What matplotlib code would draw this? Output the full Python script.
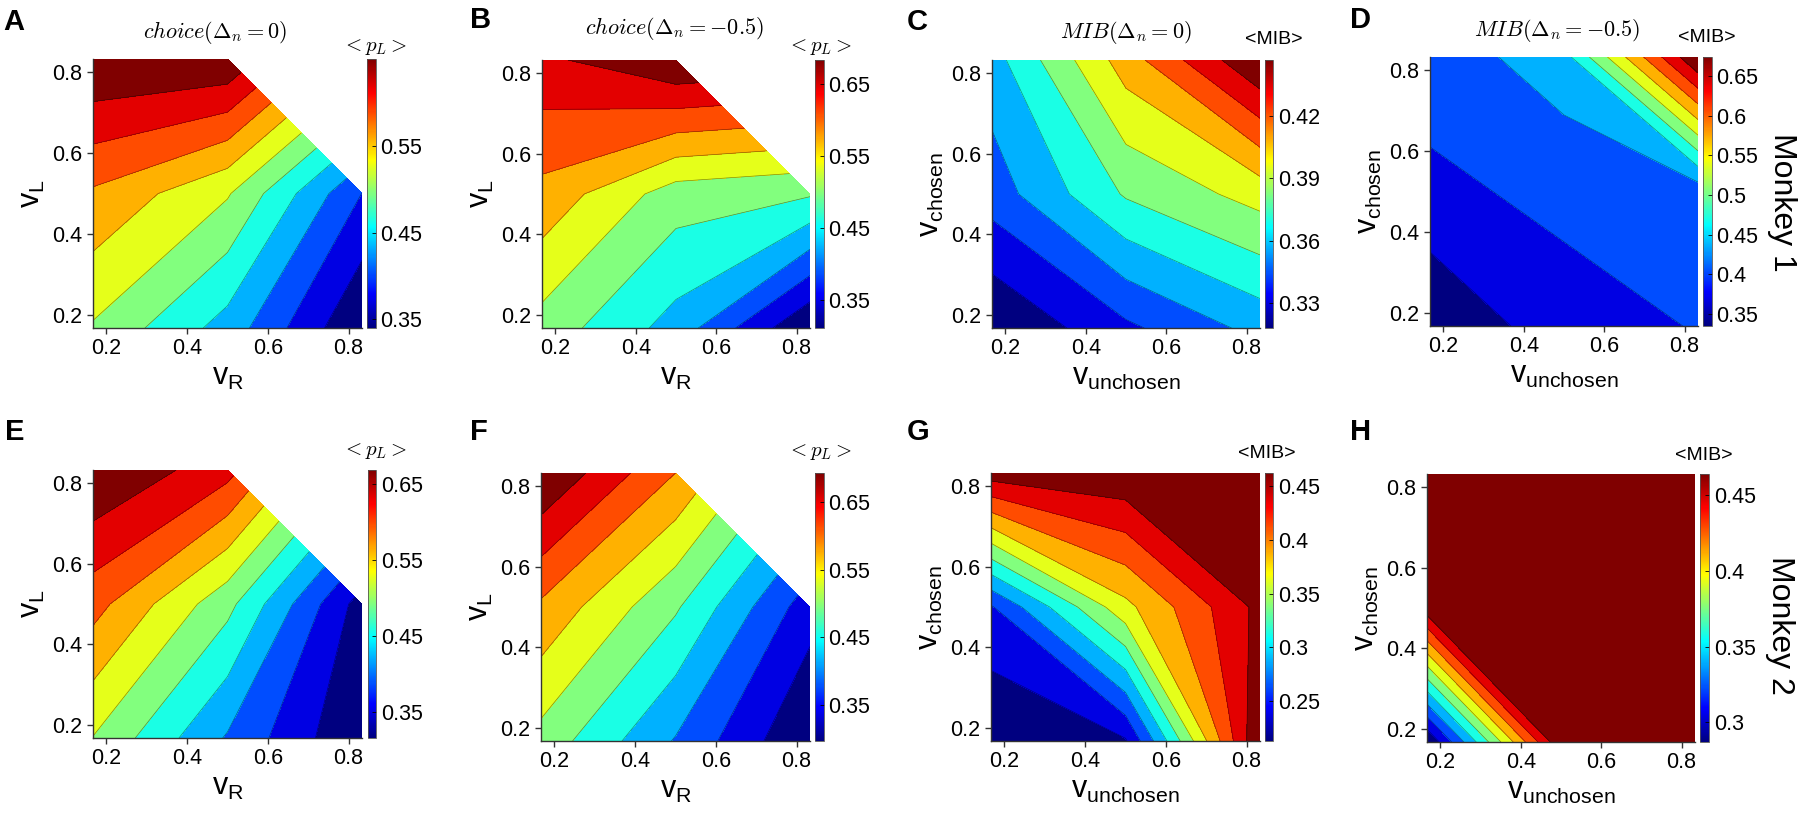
import numpy as np
import matplotlib
matplotlib.use("Agg")
import matplotlib.pyplot as plt
from matplotlib.colors import Normalize, ListedColormap
from matplotlib.cm import ScalarMappable

plt.rcParams['font.family'] = ['Liberation Sans', 'DejaVu Sans']
plt.rcParams['mathtext.fontset'] = 'custom'
plt.rcParams['mathtext.rm'] = 'Liberation Sans'
plt.rcParams['mathtext.it'] = 'Liberation Sans:italic'

# grid of offered values, same on both axes
grid_vals = [1 / 6, 1 / 2, 5 / 6]

# rows: y = 1/6, 1/2, 5/6 ; columns: x = 1/6, 1/2, 5/6 (nan = condition not offered)
choice_m1_d0 = [[0.506, 0.441, 0.340], [0.561, 0.512, 0.396], [0.650, 0.647, np.nan]]
choice_m1_d05 = [[0.501, 0.433, 0.311], [0.572, 0.497, 0.484], [0.642, 0.684, np.nan]]
mib_m1_d0 = [[0.318, 0.339, 0.357], [0.347, 0.378, 0.393], [0.360, 0.406, 0.447]]
mib_m1_d05 = [[0.335, 0.386, 0.398], [0.391, 0.403, 0.409], [0.408, 0.446, 0.674]]
choice_m2_d0 = [[0.507, 0.408, 0.315], [0.585, 0.486, 0.332], [0.669, 0.617, np.nan]]
choice_m2_d05 = [[0.500, 0.402, 0.297], [0.578, 0.482, 0.348], [0.693, 0.585, np.nan]]
mib_m2_d0 = [[0.213, 0.233, 0.462], [0.256, 0.365, 0.446], [0.451, 0.458, 0.462]]
mib_m2_d05 = [[0.287, 0.462, 0.464], [0.457, 0.464, 0.464], [0.464, 0.464, 0.464]]

cbar_ticks_choice_a = [0.35, 0.45, 0.55]
cbar_ticks_choice = [0.35, 0.45, 0.55, 0.65]
cbar_ticks_c = [0.33, 0.36, 0.39, 0.42]
cbar_ticks_d = [0.35, 0.4, 0.45, 0.5, 0.55, 0.6, 0.65]
cbar_ticks_g = [0.25, 0.3, 0.35, 0.4, 0.45]
cbar_ticks_h = [0.3, 0.35, 0.4, 0.45]

W, H = 1800, 816
fig = plt.figure(figsize=(W / 100, H / 100), dpi=100)

# MATLAB-style jet
_t = np.linspace(0, 1, 256)
_jet = np.stack([np.clip(1.5 - np.abs(4 * _t - 3), 0, 1),
                 np.clip(1.5 - np.abs(4 * _t - 2), 0, 1),
                 np.clip(1.5 - np.abs(4 * _t - 1), 0, 1)], axis=1)
cmap = ListedColormap(_jet)


def rect(l, t, r, b):
    return [l / W, 1 - b / H, (r - l) / W, (b - t) / H]


def fx(x):
    return x / W


def fy(y):
    return 1 - y / H


panels = [
    # letter, data, kind, title, ticks, axes px, cbar px, letter pos, title pos, cbar label pos
    ('A', choice_m1_d0, 'choice', r'$choice(\Delta_n=0)$', cbar_ticks_choice_a,
     (93, 59, 362, 328), (367, 59, 375.5, 328), (3, 30), (215, 32), (375, 47)),
    ('B', choice_m1_d05, 'choice', r'$choice(\Delta_n=-0.5)$', cbar_ticks_choice,
     (542, 60, 810, 328), (815, 60, 823.5, 328), (470, 28), (674, 28), (820, 47)),
    ('C', mib_m1_d0, 'mib', r'$MIB(\Delta_n=0)$', cbar_ticks_c,
     (992, 60, 1260, 328), (1264.5, 60, 1273, 328), (907, 30), (1126, 33), (1274, 39)),
    ('D', mib_m1_d05, 'mib', r'$MIB(\Delta_n=-0.5)$', cbar_ticks_d,
     (1430, 57, 1698, 326), (1703, 57, 1711.5, 326), (1350, 28), (1557, 30), (1707, 37)),
    ('E', choice_m2_d0, 'choice', None, cbar_ticks_choice,
     (93, 470, 362, 738), (367.5, 470, 376, 738), (5, 440), None, (375, 451)),
    ('F', choice_m2_d05, 'choice', None, cbar_ticks_choice,
     (541, 473, 810, 741), (815, 473, 823.5, 741), (470, 440), None, (820, 452)),
    ('G', mib_m2_d0, 'mib', None, cbar_ticks_g,
     (991, 473, 1260, 741), (1264.5, 473, 1273, 741), (907, 440), None, (1267, 453)),
    ('H', mib_m2_d05, 'mib', None, cbar_ticks_h,
     (1427, 474, 1695, 742), (1700, 474, 1709, 742), (1350, 440), None, (1704, 455)),
]

X, Y = np.meshgrid(grid_vals, grid_vals)
band_colors = [cmap(v) for v in np.linspace(0, 1, 11)]

for letter, data, kind, title, cticks, axr, cbr, lpos, tpos, cpos in panels:
    Z = np.ma.masked_invalid(np.array(data, dtype=float))
    zmin, zmax = float(Z.min()), float(Z.max())
    inner = np.linspace(zmin, zmax, 12)[1:-1]
    levels = np.concatenate([[zmin], inner, [zmax]])

    ax = fig.add_axes(rect(*axr))
    ax.contourf(X, Y, Z, levels=levels, colors=band_colors, corner_mask=True)
    ax.contour(X, Y, Z, levels=inner, colors='k', linewidths=0.5, alpha=0.45,
               corner_mask=True)
    ax.set_xlim(1 / 6, 5 / 6)
    ax.set_ylim(1 / 6, 5 / 6)
    ax.set_xticks([0.2, 0.4, 0.6, 0.8])
    ax.set_yticks([0.2, 0.4, 0.6, 0.8])
    ax.tick_params(labelsize=15.5, direction='out', length=4, width=1, color='#333333')
    for s in ('top', 'right'):
        ax.spines[s].set_visible(False)
    for s in ('left', 'bottom'):
        ax.spines[s].set_color('#333333')
        ax.spines[s].set_linewidth(1.0)

    if kind == 'choice':
        ax.set_xlabel(r'$\mathrm{v}_\mathrm{R}$', fontsize=22, labelpad=2)
        ax.set_ylabel(r'$\mathrm{v}_\mathrm{L}$', fontsize=22, labelpad=4)
        clabel = r'$<p_L>$'
        cfam = 'cm'
    else:
        ax.set_xlabel(r'$\mathrm{v}_\mathrm{unchosen}$', fontsize=22, labelpad=2)
        ax.set_ylabel(r'$\mathrm{v}_\mathrm{chosen}$', fontsize=22, labelpad=4)
        clabel = '<MIB>'
        cfam = None

    cax = fig.add_axes(rect(*cbr))
    sm = ScalarMappable(norm=Normalize(zmin, zmax), cmap=cmap)
    cb = fig.colorbar(sm, cax=cax, ticks=cticks)
    cb.ax.set_yticklabels([f'{t:g}' for t in cticks])
    cb.ax.tick_params(labelsize=15.5, direction='in', length=3, width=0.6)
    cb.outline.set_linewidth(0.6)
    cb.outline.set_edgecolor('#555555')

    if cfam:
        fig.text(fx(cpos[0]), fy(cpos[1]), clabel, fontsize=15, ha='center', va='center',
                 math_fontfamily='cm')
    else:
        fig.text(fx(cpos[0]), fy(cpos[1]), clabel, fontsize=14, ha='center', va='center')

    fig.text(fx(lpos[0]), fy(lpos[1]), letter, fontsize=21, fontweight='bold',
             ha='left', va='baseline')
    if title:
        fig.text(fx(tpos[0]), fy(tpos[1]), title, fontsize=16, ha='center', va='center',
                 math_fontfamily='cm')

fig.text(fx(1782), fy(202), 'Monkey 1', fontsize=23, rotation=-90, ha='center', va='center')
fig.text(fx(1780), fy(625), 'Monkey 2', fontsize=23, rotation=-90, ha='center', va='center')

fig.savefig('out.png', dpi=100)
